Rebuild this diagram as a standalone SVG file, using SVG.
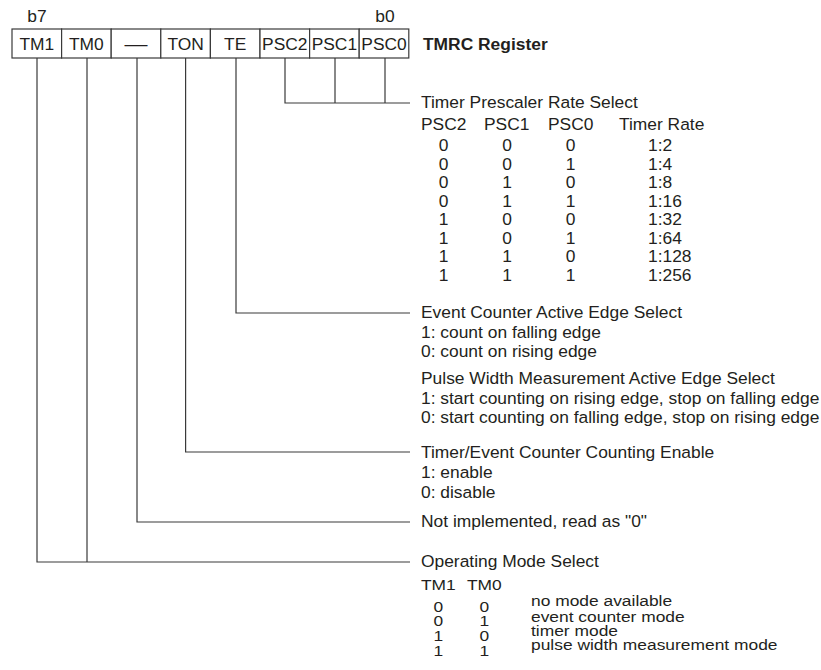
<svg xmlns="http://www.w3.org/2000/svg" width="821" height="670" viewBox="0 0 821 670">
<style>
text{font-family:"Liberation Sans",Arial,Helvetica,sans-serif;font-size:17.4px;fill:#231f20}
.c{text-anchor:middle}
.b{font-weight:bold}
.ln{fill:none;stroke:#3a3a3a;stroke-width:1.2}
.cell{fill:#fff;stroke:#3a3a3a;stroke-width:1.2}
</style>
<rect width="821" height="670" fill="#fff"/>
<g id="bit-labels">
<text class="c" x="37" y="22">b7</text>
<text class="c" x="385" y="22">b0</text>
</g>
<g id="register">
<g id="bit-TM1"><rect class="cell" x="12" y="29" width="49.6" height="29"/><text class="c" x="36.8" y="50">TM1</text></g>
<g id="bit-TM0"><rect class="cell" x="61.6" y="29" width="49.6" height="29"/><text class="c" x="86.4" y="50">TM0</text></g>
<g id="bit-unused"><rect class="cell" x="111.2" y="29" width="49.6" height="29"/><text x="124.5" y="50" textLength="23" lengthAdjust="spacingAndGlyphs">—</text></g>
<g id="bit-TON"><rect class="cell" x="160.8" y="29" width="49.6" height="29"/><text class="c" x="185.6" y="50">TON</text></g>
<g id="bit-TE"><rect class="cell" x="210.4" y="29" width="49.6" height="29"/><text class="c" x="235.2" y="50">TE</text></g>
<g id="bit-PSC2"><rect class="cell" x="260" y="29" width="49.6" height="29"/><text class="c" x="284.8" y="50">PSC2</text></g>
<g id="bit-PSC1"><rect class="cell" x="309.6" y="29" width="49.6" height="29"/><text class="c" x="334.4" y="50">PSC1</text></g>
<g id="bit-PSC0"><rect class="cell" x="359.2" y="29" width="49.6" height="29"/><text class="c" x="384" y="50">PSC0</text></g>
<text class="b" x="423" y="50">TMRC Register</text>
</g>
<g id="connectors">
<path class="ln" d="M285 58V103H410M335 58V103M385 58V103"/>
<path class="ln" d="M236 58V313H410"/>
<path class="ln" d="M185.6 58V452H410"/>
<path class="ln" d="M137 58V522H410"/>
<path class="ln" d="M37 58V562H410M87 58V562"/>
</g>
<g id="prescaler">
<text x="421" y="108">Timer Prescaler Rate Select</text>
<text x="421" y="130">PSC2</text><text x="484" y="130">PSC1</text><text x="548" y="130">PSC0</text><text x="619" y="130">Timer Rate</text>
<g class="c">
<text x="443.5" y="151">0</text><text x="507" y="151">0</text><text x="570.5" y="151">0</text>
<text x="443.5" y="169.5">0</text><text x="507" y="169.5">0</text><text x="570.5" y="169.5">1</text>
<text x="443.5" y="188">0</text><text x="507" y="188">1</text><text x="570.5" y="188">0</text>
<text x="443.5" y="206.5">0</text><text x="507" y="206.5">1</text><text x="570.5" y="206.5">1</text>
<text x="443.5" y="225">1</text><text x="507" y="225">0</text><text x="570.5" y="225">0</text>
<text x="443.5" y="243.5">1</text><text x="507" y="243.5">0</text><text x="570.5" y="243.5">1</text>
<text x="443.5" y="262">1</text><text x="507" y="262">1</text><text x="570.5" y="262">0</text>
<text x="443.5" y="280.5">1</text><text x="507" y="280.5">1</text><text x="570.5" y="280.5">1</text>
</g>
<text x="648" y="151">1:2</text>
<text x="648" y="169.5">1:4</text>
<text x="648" y="188">1:8</text>
<text x="648" y="206.5">1:16</text>
<text x="648" y="225">1:32</text>
<text x="648" y="243.5">1:64</text>
<text x="648" y="262">1:128</text>
<text x="648" y="280.5">1:256</text>
</g>
<g id="edge-select">
<text x="421" y="318">Event Counter Active Edge Select</text>
<text x="421" y="337.5">1: count on falling edge</text>
<text x="421" y="357">0: count on rising edge</text>
<text x="421" y="384">Pulse Width Measurement Active Edge Select</text>
<text x="421" y="403.5">1: start counting on rising edge, stop on falling edge</text>
<text x="421" y="423">0: start counting on falling edge, stop on rising edge</text>
</g>
<g id="enable">
<text x="421" y="458">Timer/Event Counter Counting Enable</text>
<text x="421" y="478">1: enable</text>
<text x="421" y="498">0: disable</text>
</g>
<g id="unused">
<text x="421" y="527">Not implemented, read as "0"</text>
</g>
<g id="mode">
<text x="421" y="567">Operating Mode Select</text>
<g transform="scale(1,0.8)">
<text x="421" y="737.5">TM1</text><text x="467" y="737.5">TM0</text>
<g class="c">
<text x="438.4" y="765">0</text><text x="484.4" y="765">0</text>
<text x="438.4" y="783.1">0</text><text x="484.4" y="783.1">1</text>
<text x="438.4" y="801.25">1</text><text x="484.4" y="801.25">0</text>
<text x="438.4" y="819.4">1</text><text x="484.4" y="819.4">1</text>
</g>
<text x="531" y="758.1">no mode available</text>
<text x="531" y="776.9">event counter mode</text>
<text x="531" y="794.4">timer mode</text>
<text x="531" y="813.1">pulse width measurement mode</text>
</g>
</g>
</svg>
